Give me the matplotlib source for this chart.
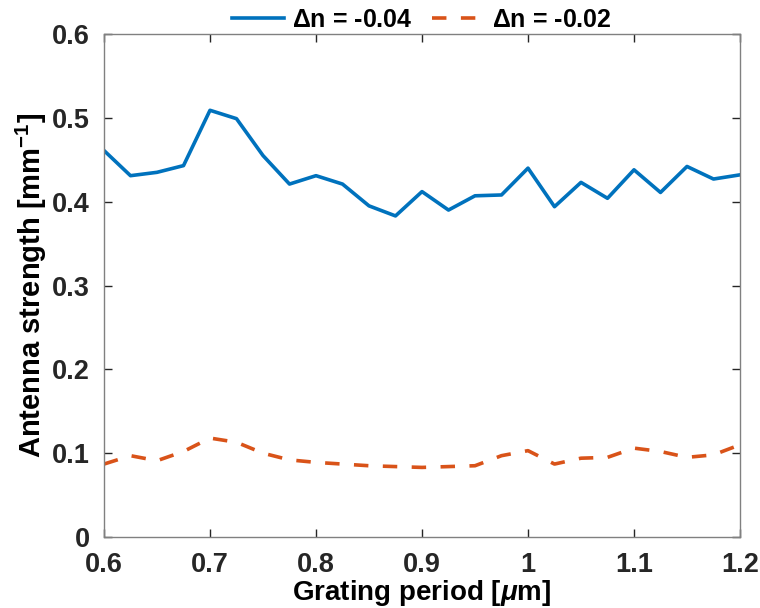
import numpy as np
import matplotlib
matplotlib.use('Agg')
import matplotlib.pyplot as plt

plt.rcParams['font.family'] = ['Liberation Sans', 'DejaVu Sans']
plt.rcParams['font.weight'] = 'bold'
plt.rcParams['mathtext.fontset'] = 'custom'
plt.rcParams['mathtext.rm'] = 'Liberation Sans:bold'
plt.rcParams['mathtext.it'] = 'Liberation Sans:italic:bold'

# data
period = np.arange(0.6, 1.2001, 0.025)
strength_004 = [0.461, 0.431, 0.435, 0.443, 0.509, 0.499, 0.455, 0.421, 0.431,
                0.421, 0.395, 0.383, 0.412, 0.390, 0.407, 0.408, 0.440, 0.394,
                0.423, 0.404, 0.438, 0.411, 0.442, 0.427, 0.432]
strength_002 = [0.087, 0.097, 0.091, 0.102, 0.118, 0.113, 0.100, 0.092, 0.089,
                0.087, 0.085, 0.084, 0.083, 0.084, 0.085, 0.097, 0.103, 0.087,
                0.094, 0.095, 0.106, 0.102, 0.095, 0.098, 0.110]

fig = plt.figure(figsize=(7.6, 6.08), dpi=100)
ax = fig.add_axes([104/760, 1 - 537/608, 636/760, 503/608])

ax.plot(period, strength_004, color='#0072BD', lw=2.6, label=r'$\Delta$n = -0.04')
ax.plot(period, strength_002, color='#D95319', lw=2.6, ls=(0, (4, 4)), label=r'$\Delta$n = -0.02')

ax.set_xlim(0.6, 1.2)
ax.set_ylim(0, 0.6)
ax.set_xticks([0.6, 0.7, 0.8, 0.9, 1.0, 1.1, 1.2])
ax.set_xticklabels(['0.6', '0.7', '0.8', '0.9', '1', '1.1', '1.2'])
ax.set_yticks([0, 0.1, 0.2, 0.3, 0.4, 0.5, 0.6])
ax.set_yticklabels(['0', '0.1', '0.2', '0.3', '0.4', '0.5', '0.6'])
ax.tick_params(direction='in', length=6, width=1, labelsize=19.5, colors='#262626',
               top=True, right=True)
ax.tick_params(axis='x', pad=11)
ax.tick_params(axis='y', pad=10)
for s in ax.spines.values():
    s.set_color('#808080')
    s.set_linewidth(1)

ax.set_xlabel(r'Grating period [$\mu$m]', fontsize=20, fontweight='bold', labelpad=0)
ax.set_ylabel(r'Antenna strength [mm$^{-1}$]', fontsize=21, fontweight='bold', labelpad=2)

ax.legend(loc='lower center', bbox_to_anchor=(0.5, 0.985), ncol=2, frameon=False,
          fontsize=18, handlelength=2.1, handletextpad=0.3, columnspacing=0.8,
          borderaxespad=0)

fig.savefig('out.png', dpi=100)
